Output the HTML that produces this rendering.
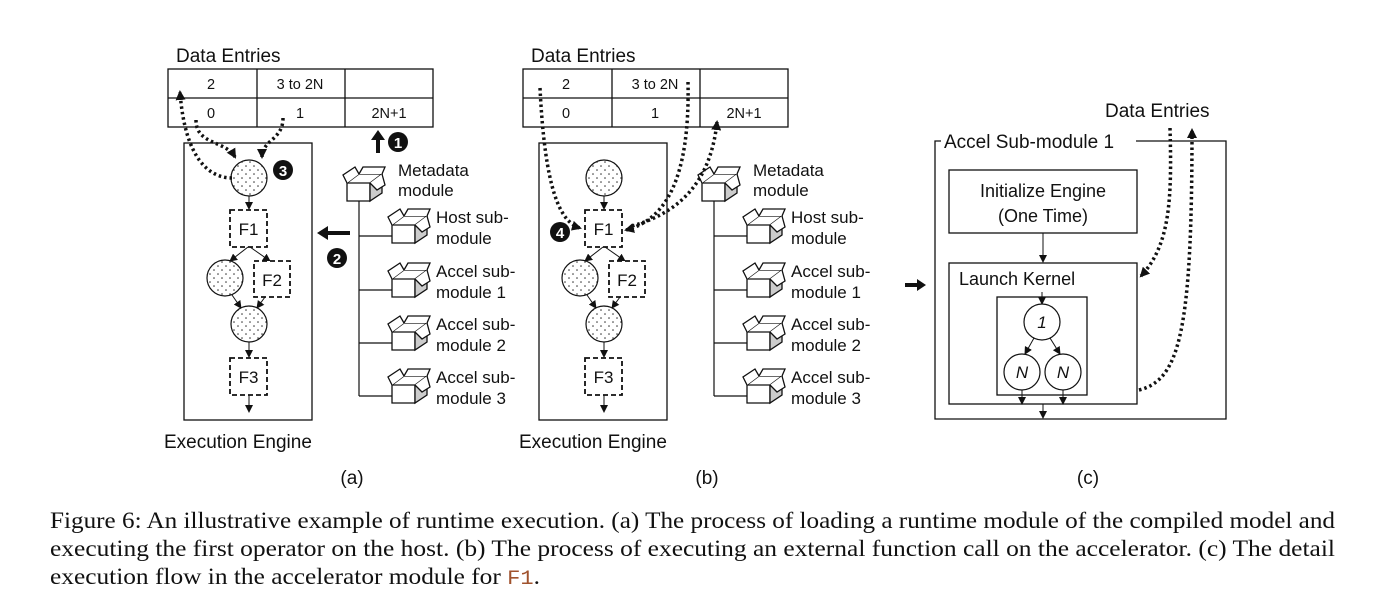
<!DOCTYPE html>
<html><head><meta charset="utf-8"><style>
html,body{margin:0;padding:0;background:#fff;}
svg{display:block;}
.t{font-family:"Liberation Sans",sans-serif;fill:#111;}
.c{font-family:"Liberation Serif",serif;font-size:23px;fill:#111;}
</style></head><body>
<svg width="1378" height="607" viewBox="0 0 1378 607" xmlns="http://www.w3.org/2000/svg">
<defs>
<pattern id="dots" width="8" height="8" patternUnits="userSpaceOnUse">
<rect width="8" height="8" fill="#fff"/><circle cx="2" cy="2" r="0.8" fill="#333"/><circle cx="6" cy="6" r="0.8" fill="#333"/>
</pattern>
<marker id="ah" markerWidth="8" markerHeight="8" refX="7" refY="4" orient="auto" markerUnits="userSpaceOnUse">
<path d="M0,0 L8,4 L0,8 z" fill="#111"/></marker>
<marker id="ahb" markerWidth="10" markerHeight="10" refX="8" refY="5" orient="auto" markerUnits="userSpaceOnUse">
<path d="M0,0 L10,5 L0,10 z" fill="#111"/></marker>
<g id="box">
<path d="M0,0 L23,0 L23,18 L0,18 z" fill="#fff" stroke="#111" stroke-width="1.3"/>
<path d="M23,0 L35,-9 L35,10 L23,18 z" fill="#ccc" stroke="#111" stroke-width="1.3"/>
<path d="M0,0 L12,-9 L35,-9" fill="none" stroke="#111" stroke-width="1.3"/>
<path d="M0,0 L-4,-8 L8,-16 L12,-9" fill="#fff" stroke="#111" stroke-width="1.3"/>
<path d="M12,-9 L16,-16 L38,-16 L35,-9" fill="#fff" stroke="#111" stroke-width="1.3"/>
<path d="M23,0 L30,7 L38,2 L35,-9" fill="#fff" stroke="#111" stroke-width="1.3"/>
</g>
<g id="panel">
<text class="t" x="176" y="62" font-size="19">Data Entries</text>
<rect x="168" y="69" width="265" height="58" fill="none" stroke="#111" stroke-width="1.3"/>
<line x1="168" y1="98" x2="433" y2="98" stroke="#111" stroke-width="1.3"/>
<line x1="257" y1="69" x2="257" y2="127" stroke="#111" stroke-width="1.3"/>
<line x1="345" y1="69" x2="345" y2="127" stroke="#111" stroke-width="1.3"/>
<text class="t" x="211" y="89" font-size="14.5" text-anchor="middle">2</text>
<text class="t" x="300" y="89" font-size="14.5" text-anchor="middle">3 to 2N</text>
<text class="t" x="211" y="118" font-size="14.5" text-anchor="middle">0</text>
<text class="t" x="300" y="118" font-size="14.5" text-anchor="middle">1</text>
<text class="t" x="389" y="118" font-size="14.5" text-anchor="middle">2N+1</text>
<rect x="184" y="143" width="128" height="277" fill="none" stroke="#111" stroke-width="1.3"/>
<circle cx="249" cy="178" r="18" fill="url(#dots)" stroke="#111" stroke-width="1.2"/>
<line x1="249" y1="196" x2="249" y2="209" stroke="#111" marker-end="url(#ah)"/>
<rect x="230" y="210" width="37" height="37" fill="#fff" stroke="#111" stroke-width="1.8" stroke-dasharray="5,3"/>
<text class="t" x="248.5" y="235" font-size="17" text-anchor="middle">F1</text>
<line x1="248" y1="247" x2="230" y2="261" stroke="#111" marker-end="url(#ah)"/>
<line x1="250" y1="247" x2="270" y2="261" stroke="#111" marker-end="url(#ah)"/>
<circle cx="225" cy="278" r="18" fill="url(#dots)" stroke="#111" stroke-width="1.2"/>
<rect x="254" y="261" width="36" height="36" fill="#fff" stroke="#111" stroke-width="1.8" stroke-dasharray="5,3"/>
<text class="t" x="272" y="286" font-size="17" text-anchor="middle">F2</text>
<line x1="232" y1="295" x2="241" y2="308" stroke="#111" marker-end="url(#ah)"/>
<line x1="265" y1="297" x2="257" y2="308" stroke="#111" marker-end="url(#ah)"/>
<circle cx="249" cy="324" r="18" fill="url(#dots)" stroke="#111" stroke-width="1.2"/>
<line x1="249" y1="342" x2="249" y2="357" stroke="#111" marker-end="url(#ah)"/>
<rect x="230" y="358" width="37" height="37" fill="#fff" stroke="#111" stroke-width="1.8" stroke-dasharray="5,3"/>
<text class="t" x="248.5" y="383" font-size="17" text-anchor="middle">F3</text>
<line x1="249" y1="395" x2="249" y2="412" stroke="#111" marker-end="url(#ah)"/>
<text class="t" x="164" y="448" font-size="19">Execution Engine</text>
<use href="#box" x="347" y="183"/>
<text class="t" x="398" y="176" font-size="17">Metadata</text>
<text class="t" x="398" y="196" font-size="17">module</text>
<path d="M359,201 V396" stroke="#111" stroke-width="1.2" fill="none"/>
<path d="M359,236 H392 M359,290 H392 M359,343 H392 M359,396 H392" stroke="#111" stroke-width="1.2"/>
<use href="#box" x="392" y="225"/>
<use href="#box" x="392" y="279"/>
<use href="#box" x="392" y="332"/>
<use href="#box" x="392" y="385"/>
<text class="t" x="436" y="223" font-size="17">Host sub-</text>
<text class="t" x="436" y="244" font-size="17">module</text>
<text class="t" x="436" y="277" font-size="17">Accel sub-</text>
<text class="t" x="436" y="298" font-size="17">module 1</text>
<text class="t" x="436" y="330" font-size="17">Accel sub-</text>
<text class="t" x="436" y="351" font-size="17">module 2</text>
<text class="t" x="436" y="383" font-size="17">Accel sub-</text>
<text class="t" x="436" y="404" font-size="17">module 3</text>
</g>
</defs>

<use href="#panel"/>
<use href="#panel" x="355"/>
<text class="t" x="352" y="484" font-size="19" text-anchor="middle">(a)</text>
<text class="t" x="707" y="484" font-size="19" text-anchor="middle">(b)</text>

<g stroke="#111" stroke-width="3.5" stroke-dasharray="2.5,3" fill="none">
<path d="M232,178 C210,178 185,160 180,92" marker-end="url(#ahb)"/>
<path d="M196,120 C196,145 225,140 235,157" marker-end="url(#ahb)"/>
<path d="M283,118 C283,140 262,140 262,157" marker-end="url(#ahb)"/>
</g>
<path d="M376,153 V140 H371 L378,130 L385,140 H380 V153 z" fill="#111"/>
<circle cx="398" cy="142" r="10" fill="#111"/><text x="398" y="148" font-family="Liberation Sans" font-size="15" font-weight="bold" fill="#fff" text-anchor="middle">1</text>
<path d="M350,231 H328 V226 L317,233 L328,240 V235 H350 z" fill="#111"/>
<circle cx="337" cy="258" r="10" fill="#111"/><text x="337" y="264" font-family="Liberation Sans" font-size="15" font-weight="bold" fill="#fff" text-anchor="middle">2</text>
<circle cx="283" cy="170" r="10" fill="#111"/><text x="283" y="176" font-family="Liberation Sans" font-size="15" font-weight="bold" fill="#fff" text-anchor="middle">3</text>

<g stroke="#111" stroke-width="3.5" stroke-dasharray="2.5,3" fill="none">
<path d="M540,88 C545,190 560,222 580,228" marker-end="url(#ahb)"/>
<path d="M688,82 C690,180 665,220 626,230" marker-end="url(#ahb)"/>
<path d="M632,226 C690,210 712,170 717,122" marker-end="url(#ahb)"/>
</g>
<circle cx="560" cy="232" r="10" fill="#111"/><text x="560" y="238" font-family="Liberation Sans" font-size="15" font-weight="bold" fill="#fff" text-anchor="middle">4</text>

<path d="M905,283 H917 V279 L926,285 L917,291 V287 H905 z" fill="#111"/>
<path d="M941,141 H935 V419 H1226 V141 H1136" fill="none" stroke="#111" stroke-width="1.3"/>
<text class="t" x="944" y="148" font-size="19">Accel Sub-module 1</text>
<text class="t" x="1105" y="117" font-size="19">Data Entries</text>
<rect x="949" y="170" width="188" height="63" fill="none" stroke="#111" stroke-width="1.3"/>
<text class="t" x="1043" y="197" font-size="18" text-anchor="middle">Initialize Engine</text>
<text class="t" x="1043" y="222" font-size="18" text-anchor="middle">(One Time)</text>
<line x1="1043" y1="233" x2="1043" y2="262" stroke="#111" marker-end="url(#ah)"/>
<rect x="949" y="263" width="188" height="141" fill="none" stroke="#111" stroke-width="1.3"/>
<text class="t" x="959" y="285" font-size="18">Launch Kernel</text>
<rect x="997" y="297" width="90" height="98" fill="none" stroke="#111" stroke-width="1.3"/>
<line x1="1042" y1="292" x2="1042" y2="304" stroke="#111" marker-end="url(#ah)"/>
<circle cx="1042" cy="322" r="18" fill="#fff" stroke="#111" stroke-width="1.2"/>
<text class="t" x="1042" y="328" font-size="17" font-style="italic" text-anchor="middle">1</text>
<line x1="1034" y1="338" x2="1025" y2="354" stroke="#111" marker-end="url(#ah)"/>
<line x1="1050" y1="338" x2="1060" y2="354" stroke="#111" marker-end="url(#ah)"/>
<circle cx="1022" cy="372" r="18" fill="#fff" stroke="#111" stroke-width="1.2"/>
<circle cx="1063" cy="372" r="18" fill="#fff" stroke="#111" stroke-width="1.2"/>
<text class="t" x="1022" y="378" font-size="17" font-style="italic" text-anchor="middle">N</text>
<text class="t" x="1063" y="378" font-size="17" font-style="italic" text-anchor="middle">N</text>
<line x1="1022" y1="390" x2="1022" y2="404" stroke="#111" marker-end="url(#ah)"/>
<line x1="1063" y1="390" x2="1063" y2="404" stroke="#111" marker-end="url(#ah)"/>
<line x1="1043" y1="404" x2="1043" y2="418" stroke="#111" marker-end="url(#ah)"/>
<g stroke="#111" stroke-width="3.5" stroke-dasharray="2.5,3" fill="none">
<path d="M1170,128 C1172,200 1170,245 1141,276" marker-end="url(#ahb)"/>
<path d="M1139,390 C1180,380 1192,330 1192,130" marker-end="url(#ahb)"/>
</g>
<text class="t" x="1088" y="484" font-size="19" text-anchor="middle">(c)</text>

<text class="c" x="50" y="528" textLength="1285" lengthAdjust="spacingAndGlyphs">Figure 6: An illustrative example of runtime execution. (a) The process of loading a runtime module of the compiled model and</text>
<text class="c" x="50" y="556" textLength="1285" lengthAdjust="spacingAndGlyphs">executing the first operator on the host. (b) The process of executing an external function call on the accelerator. (c) The detail</text>
<text class="c" x="50" y="584" textLength="490" lengthAdjust="spacingAndGlyphs">execution flow in the accelerator module for <tspan font-family="Liberation Mono" font-size="20" fill="#a0522d">F1</tspan>.</text>
</svg>
</body></html>
